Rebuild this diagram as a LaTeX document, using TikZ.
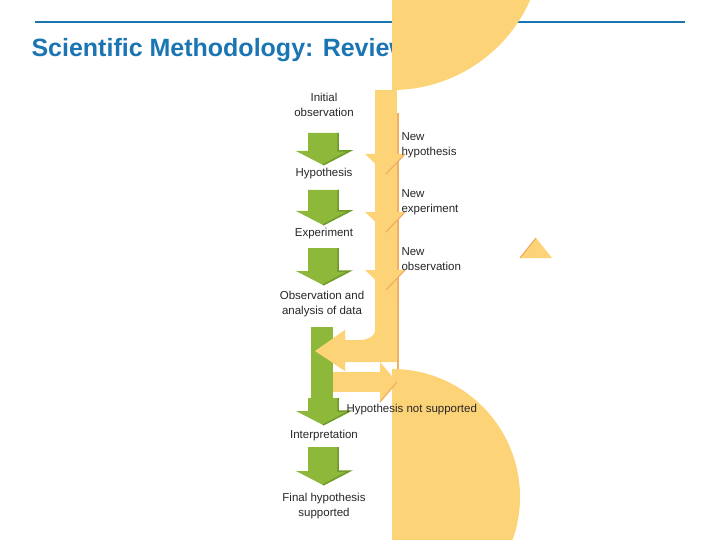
\documentclass[tikz,border=0pt]{standalone}
\usepackage{fontspec}
\setmainfont{Liberation Sans}
\definecolor{titleblue}{HTML}{1B75B3}
\definecolor{leaf}{HTML}{8DB83A}
\definecolor{leafdark}{HTML}{6E9A2A}
\definecolor{sun}{HTML}{FDD377}
\definecolor{sundark}{HTML}{F2AE63}
\newcommand{\greenarrow}[2]{% top y, bottom y
  \fill[leaf] (308,#1) -- (338,#1) -- (338,#2-14) -- (350,#2-14) -- (323,#2) -- (296,#2-14) -- (308,#2-14) -- cycle;
  \draw[leafdark,line width=1.5pt] (338,#1) -- (338,#2-14) -- (350,#2-14) -- (323,#2);}
\newcommand{\chevron}[1]{% tip y
  \fill[sun] (365,#1-20) -- (386,#1) -- (405,#1-20) -- cycle;
  \draw[sundark,line width=1.2pt] (386,#1) -- (405,#1-20);}
\begin{document}
\begin{tikzpicture}[x=1pt,y=-1pt,
  stage/.style={align=center,font=\fontsize{11.5}{14.5}\selectfont,text=black!85},
  note/.style={align=left,anchor=west,font=\fontsize{11.5}{14.5}\selectfont,text=black!85}]
  \useasboundingbox (0,0) rectangle (720,540);
  % header
  \draw[titleblue,line width=2.5pt] (35,22) -- (685,22);
  \node[anchor=west,text=titleblue,font=\fontsize{25}{30}\selectfont\bfseries] (title) at (28,50) {Scientific Methodology: Review};
  % yellow loop
  \fill[sun] (392,90) arc (90:-90:151) -- (392,369) arc (-90:90:128) -- cycle;
  \fill[sun] (375,90) rectangle (397,345);
  \draw[sundark,line width=1.2pt] (398,113) -- (398,369);
  \fill[sun] (375,300) -- (375,330) to[out=-90,in=0] (360,340) -- (345,340) -- (345,330) -- (315,351) -- (345,371) -- (345,362) -- (397,362) -- (397,300) -- cycle;
  \fill[sun] (333,372) rectangle (380,392);
  \fill[sun] (380,362) -- (397,382) -- (380,402) -- cycle;
  \draw[sundark,line width=1.2pt] (397,382) -- (380,402);
  \foreach \y in {174,232,290} {\chevron{\y}}
  \fill[sun] (520,258) -- (536,238) -- (552,258) -- cycle;
  \draw[sundark,line width=1.2pt] (536,238) -- (520,258);
  % green steps
  \greenarrow{133}{165}
  \greenarrow{190}{225}
  \greenarrow{248}{285}
  \fill[leaf] (311,327) rectangle (333,400);
  \greenarrow{398}{425}
  \greenarrow{447}{485}
  \fill[sun] (315,351) -- (345,330) -- (345,371) -- cycle;
  % labels
  \node[stage] (init) at (324,105) {Initial\\observation};
  \node[stage] (hyp) at (324,174) {Hypothesis};
  \node[stage] (exp) at (324,234) {Experiment};
  \node[stage] (obs) at (322,304) {Observation and\\analysis of data};
  \node[stage] (interp) at (324,436) {Interpretation};
  \node[stage] (final) at (324,506) {Final hypothesis\\supported};
  \node[note] (notsup) at (343,410) {Hypothesis not supported};
  \node[note] (newhyp) at (398,145) {New\\hypothesis};
  \node[note] (newexp) at (398,202) {New\\experiment};
  \node[note] (newobs) at (398,259) {New\\observation};
\end{tikzpicture}
\end{document}
